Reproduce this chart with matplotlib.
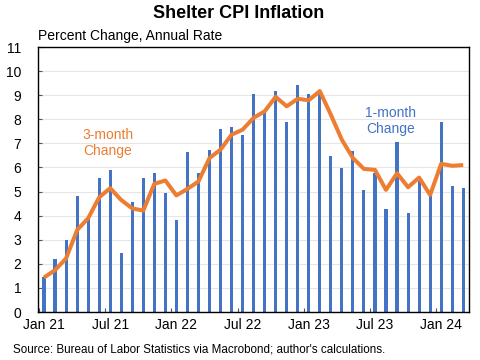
import matplotlib
matplotlib.use("Agg")
import matplotlib.pyplot as plt

plt.rcParams['font.family'] = ['Liberation Sans', 'DejaVu Sans']

# monthly shelter CPI, Jan 2021 .. Mar 2024
months = ['Jan 21', 'Feb 21', 'Mar 21', 'Apr 21', 'May 21', 'Jun 21', 'Jul 21', 'Aug 21', 'Sep 21',
          'Oct 21', 'Nov 21', 'Dec 21', 'Jan 22', 'Feb 22', 'Mar 22', 'Apr 22', 'May 22', 'Jun 22',
          'Jul 22', 'Aug 22', 'Sep 22', 'Oct 22', 'Nov 22', 'Dec 22', 'Jan 23', 'Feb 23', 'Mar 23',
          'Apr 23', 'May 23', 'Jun 23', 'Jul 23', 'Aug 23', 'Sep 23', 'Oct 23', 'Nov 23', 'Dec 23',
          'Jan 24', 'Feb 24', 'Mar 24']

one_month = [1.46, 2.22, 2.99, 4.82, 3.89, 5.57, 5.9, 2.47, 4.55, 5.57, 5.78, 4.96, 3.84,
             6.63, 5.79, 6.71, 7.6, 7.67, 7.36, 9.03, 8.29, 9.19, 7.88, 9.44, 9.03, 9.03,
             6.49, 5.96, 6.67, 5.07, 5.79, 4.29, 7.04, 4.13, 5.42, 4.89, 7.88, 5.25, 5.13]

three_month = [1.43, 1.74, 2.22, 3.4, 3.89, 4.76, 5.14, 4.65, 4.3, 4.21, 5.32, 5.46, 4.84,
               5.11, 5.42, 6.39, 6.74, 7.36, 7.57, 8.06, 8.33, 8.93, 8.54, 8.85, 8.79, 9.17,
               8.19, 7.15, 6.39, 5.94, 5.9, 5.07, 5.76, 5.18, 5.58, 4.86, 6.15, 6.07, 6.1]

label_months = ['Jan 21', 'Jul 21', 'Jan 22', 'Jul 22', 'Jan 23', 'Jul 23', 'Jan 24']

blue = '#4472C4'
orange = '#ED7D31'

fig = plt.figure(figsize=(4.8, 3.6), dpi=100)
ax = fig.add_axes([0.079, 0.1333, 0.898, 0.7361])

x = list(range(len(months)))
ax.bar(x, one_month, width=0.28, color=blue, zorder=2, antialiased=False)
ax.plot(x, three_month, color=orange, lw=2.9, zorder=3, solid_capstyle='butt')

ax.set_xlim(-0.55, 38.52)
ax.set_ylim(0, 11)
ax.set_yticks(range(0, 12))
ax.grid(axis='y', color='#E6E6E6', lw=0.8, zorder=0)
ax.set_axisbelow(True)

pos = [months.index(m) for m in label_months]
ax.set_xticks(pos)
ax.set_xticklabels(label_months)
ax.set_xticks([p - 0.45 for p in pos], minor=True)
ax.tick_params(axis='x', which='major', length=0, labelsize=10, pad=4)
ax.tick_params(axis='x', which='minor', direction='in', length=3, width=0.8, color='#555555')
ax.tick_params(axis='y', direction='in', length=3, width=0.8, color='#555555', labelsize=10, pad=12)

for s in ax.spines.values():
    s.set_color('black')
    s.set_linewidth(1.0)

ax.text(108 / 480, 1 - 143 / 360, '3-month\nChange', transform=fig.transFigure, color=orange,
        fontsize=10, ha='center', va='center', linespacing=1.15)
ax.text(391 / 480, 1 - 121 / 360, '1-month\nChange', transform=fig.transFigure, color=blue,
        fontsize=10, ha='center', va='center', linespacing=1.15)

fig.text(0.498, 1 - 14 / 360, 'Shelter CPI Inflation', fontsize=13, fontweight='bold',
         ha='center', va='center')
fig.text(38 / 480, 1 - 36 / 360, 'Percent Change, Annual Rate', fontsize=10, ha='left', va='center')
fig.text(13 / 480, 1 - 349 / 360, "Source: Bureau of Labor Statistics via Macrobond; author's calculations.",
         fontsize=8.4, ha='left', va='center')

fig.savefig('out.png', dpi=100)
